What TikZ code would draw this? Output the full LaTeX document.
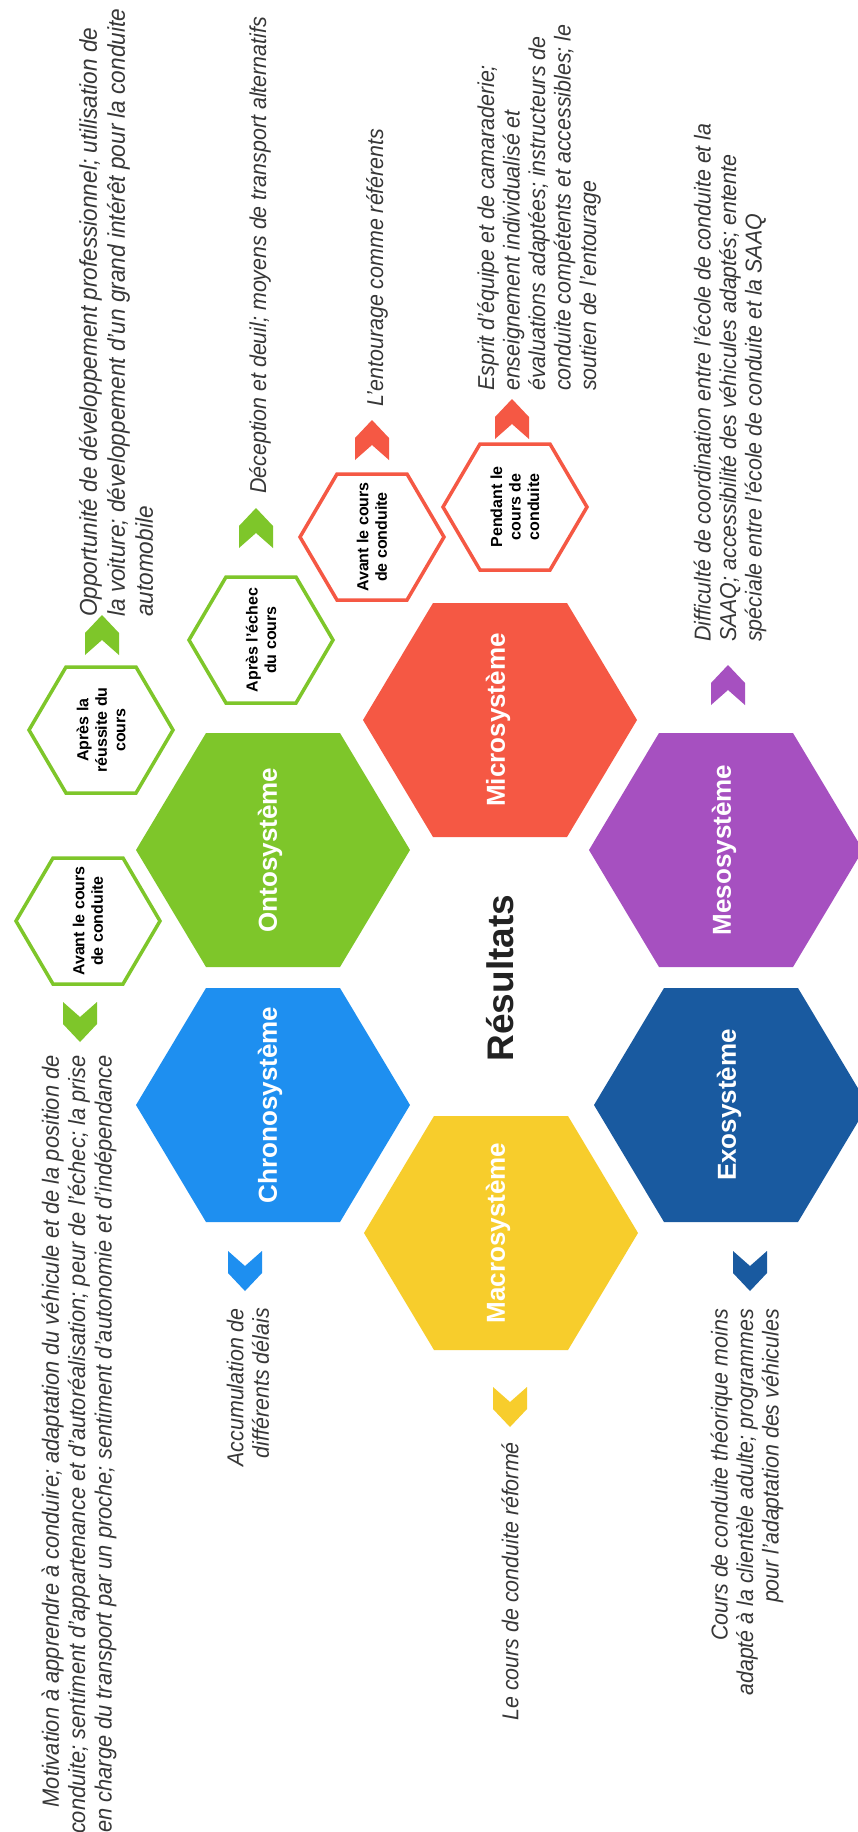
\documentclass[tikz,border=0pt]{standalone}
\usepackage{fontspec}
\setmainfont{Liberation Sans}
\newfontfamily\itfont{Liberation Sans}[FakeStretch=0.93]
\definecolor{cgreen}{RGB}{126,198,42}
\definecolor{cblue}{RGB}{30,143,240}
\definecolor{cred}{RGB}{245,88,68}
\definecolor{cyellow}{RGB}{247,205,44}
\definecolor{cpurple}{RGB}{166,80,192}
\definecolor{cdblue}{RGB}{25,90,160}
\definecolor{ctext}{RGB}{55,55,55}
\definecolor{ctitle}{RGB}{34,34,34}
\newcommand\BigHex[3]{% cx, cy, colour
  \fill[#3,shift={(#1,#2)}] (-137,0) -- (-67,-117) -- (67,-117) -- (137,0) -- (67,117) -- (-67,117) -- cycle;}
\newcommand\SmallHex[3]{% cx, cy, colour
  \draw[#3,line width=3.5pt,fill=white,line join=miter,shift={(#1,#2)}] (-72,0) -- (-35,-63) -- (35,-63) -- (72,0) -- (35,63) -- (-35,63) -- cycle;}
\newcommand\ChevDown[3]{%
  \fill[#3,shift={(#1,#2)}] (-17,-20) -- (0,-5) -- (17,-20) -- (17,2) -- (0,20) -- (-17,2) -- cycle;}
\newcommand\ChevUp[3]{%
  \fill[#3,shift={(#1,#2)}] (-17,20) -- (0,5) -- (17,20) -- (17,-2) -- (0,-20) -- (-17,-2) -- cycle;}
\tikzset{
  txt/.style={rotate=90, inner sep=0pt, text=ctext, font=\itfont\itshape\fontsize{23}{25.5}\selectfont},
  txtbig/.style={txt, font=\itfont\itshape\fontsize{24.3}{28}\selectfont},
  txtmid/.style={txt, font=\itfont\itshape\fontsize{23.5}{26.3}\selectfont},
  biglbl/.style={rotate=90, inner sep=0pt, text=white, font=\bfseries\fontsize{26}{30}\selectfont},
  smalllbl/.style={rotate=90, inner sep=0pt, align=center, text=black, font=\bfseries\fontsize{16}{18.5}\selectfont},
}
\begin{document}
\begin{tikzpicture}[x=1pt,y=-1pt]
\useasboundingbox (0,0) rectangle (858,1832);
\fill[white] (0,0) rectangle (858,1832);

% big hexagons
\BigHex{273}{850}{cgreen}
\BigHex{273}{1105}{cblue}
\BigHex{500}{720}{cred}
\BigHex{501}{1233}{cyellow}
\BigHex{726}{850}{cpurple}
\BigHex{731}{1105}{cdblue}
\node[biglbl] (onto) at (270,850) {Ontosystème};
\node[biglbl] (chrono) at (270,1105) {Chronosystème};
\node[biglbl] (micro) at (498,720) {Microsystème};
\node[biglbl] (macro) at (498,1233) {Macrosystème};
\node[biglbl] (meso) at (724,850) {Mesosystème};
\node[biglbl] (exo) at (729,1105) {Exosystème};

\node[rotate=90, inner sep=0pt, text=ctitle, font=\bfseries\fontsize{37}{40}\selectfont] (res) at (500,978) {Résultats};

% small hexagons
\SmallHex{88}{921}{cgreen}
\SmallHex{101}{730}{cgreen}
\SmallHex{261}{640}{cgreen}
\SmallHex{372}{537}{cred}
\SmallHex{515}{507}{cred}
\node[smalllbl] (s1) at (88,921) {Avant le cours\\de conduite};
\node[smalllbl] (s2) at (101,730) {Après la\\réussite du\\cours};
\node[smalllbl] (s3) at (261,640) {Après l’échec\\du cours};
\node[smalllbl] (s4) at (372,537) {Avant le cours\\de conduite};
\node[smalllbl] (s5) at (515,507) {Pendant le\\cours de\\conduite};

% chevrons
\ChevDown{80}{1022}{cgreen}
\ChevDown{245}{1271}{cblue}
\ChevDown{510}{1407}{cyellow}
\ChevDown{750}{1271}{cdblue}
\ChevUp{102}{635}{cgreen}
\ChevUp{256}{528}{cgreen}
\ChevUp{372}{440}{cred}
\ChevUp{512}{419}{cred}
\ChevUp{728}{685}{cpurple}

% texts
\node[txtbig, anchor=west, align=left] (t1) at (116,617) {Opportunité de développement professionnel; utilisation de\\la voiture; développement d’un grand intérêt pour la conduite\\automobile};
\node[txt, anchor=west] (t2) at (260,494) {Déception et deuil; moyens de transport alternatifs};
\node[txt, anchor=west] (t3) at (377,407) {L’entourage comme référents};
\node[txt, anchor=west, align=left] (t4) at (539,391) {Esprit d’équipe et de camaraderie;\\enseignement individualisé et\\évaluations adaptées; instructeurs de\\conduite compétents et accessibles; le\\soutien de l’entourage};
\node[txt, anchor=west, align=left] (t5) at (730,642) {Difficulté de coordination entre l’école de conduite et la\\SAAQ; accessibilité des véhicules adaptés; entente\\spéciale entre l’école de conduite et la SAAQ};
\node[txt, anchor=east, align=right] (t6) at (248,1308) {Accumulation de\\différents délais};
\node[txt, anchor=east] (t7) at (510,1442) {Le cours de conduite réformé};
\node[txt, anchor=east, align=right] (t8) at (747,1309) {Cours de conduite théorique moins\\adapté à la clientèle adulte; programmes\\pour l’adaptation des véhicules};
\node[txtmid, anchor=east, align=right] (t9) at (79,1055) {Motivation à apprendre à conduire; adaptation du véhicule et de la position de\\conduite; sentiment d’appartenance et d’autoréalisation; peur de l’échec; la prise\\en charge du transport par un proche; sentiment d’autonomie et d’indépendance};
\end{tikzpicture}
\end{document}
